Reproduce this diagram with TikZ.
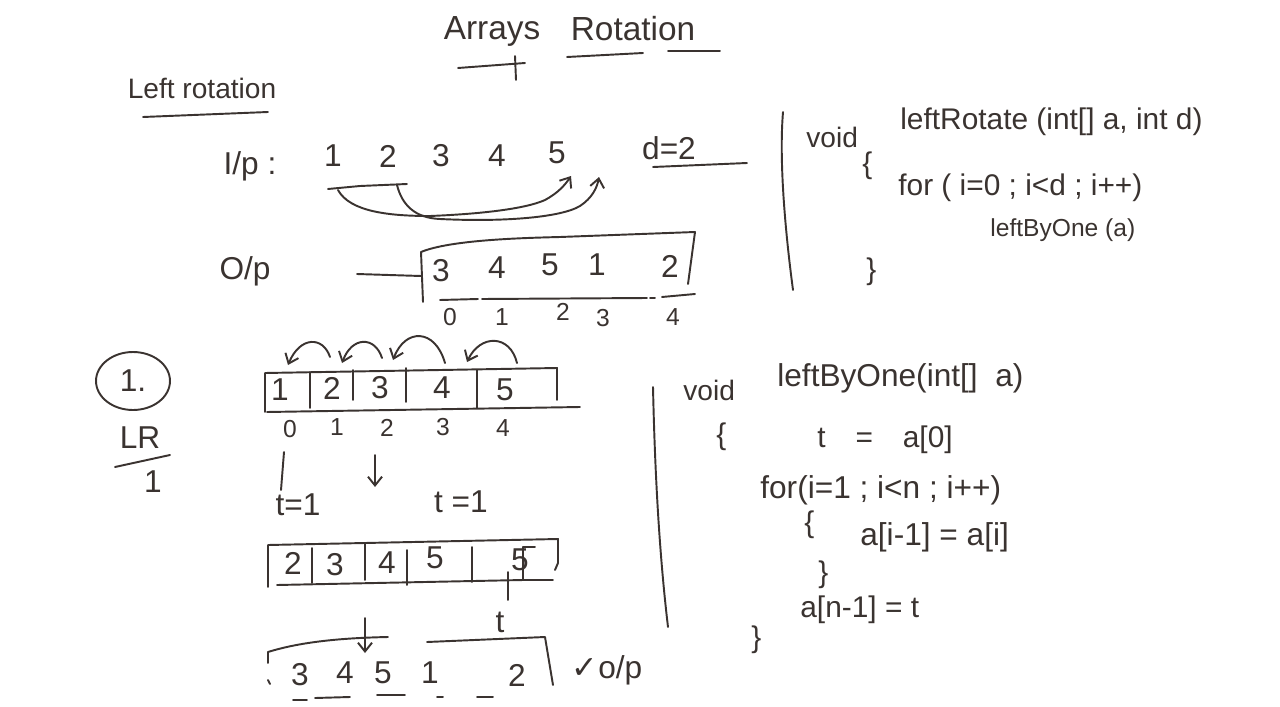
\documentclass[tikz,border=0pt]{standalone}
\usepackage{fontspec}
\setmainfont{Liberation Sans}
\newfontfamily\symfont{DejaVu Sans}
\usetikzlibrary{arrows.meta,shapes.geometric}
\definecolor{inkgray}{HTML}{3A3330}

\begin{document}
\begin{tikzpicture}[x=0.02cm,y=-0.02cm,
  pen/.style={draw=inkgray,line width=1.1pt,line cap=round,line join=round},
  tip/.style={-{Straight Barb[length=5pt,width=8pt]}},
  num/.style={text=inkgray,inner sep=0pt,font=\fontsize{18}{20}\selectfont},
  idx/.style={text=inkgray,inner sep=0pt,font=\fontsize{14}{16}\selectfont},
  code/.style={text=inkgray,inner sep=0pt,anchor=west,font=\fontsize{17}{20}\selectfont}]
  \useasboundingbox (0,0) rectangle (1280,706);

  \node[num,font=\fontsize{19}{22}\selectfont] (ttlA) at (492,31) {Arrays};
  \node[num,font=\fontsize{19}{22}\selectfont] (ttlR) at (633,29) {Rotation};
  \draw[pen] (458,68) -- (525,63);
  \draw[pen] (515,56) -- (516,80);
  \draw[pen] (567,57) -- (643,53);
  \draw[pen] (668,51) -- (720,51);
  \node[num,font=\fontsize{16}{18}\selectfont] (lrot) at (202,88) {Left rotation};
  \draw[pen] (143,117) -- (268,112);

  \node[num] (inp) at (250,166) {I/p :};
  \node[num] (i1) at (333,156) {1};
  \node[num] (i2) at (388,156) {2};
  \node[num] (i3) at (441,156) {3};
  \node[num] (i4) at (497,156) {4};
  \node[num] (i5) at (557,153) {5};
  \draw[pen] (328,189) -- (360,186) -- (407,184);
  \coordinate (b1) at (338,190);
  \coordinate (b2) at (397,185);
  \coordinate (p1) at (571,176);
  \coordinate (p2) at (599,177);
  \draw[pen,tip] (b1) .. controls (350,212) and (390,216) .. (430,216) .. controls (480,214) and (525,209) .. (545,200) .. controls (558,193) and (565,185) .. (p1);
  \draw[pen,tip] (b2) .. controls (402,205) and (415,218) .. (440,219) .. controls (500,222) and (560,218) .. (580,206) .. controls (592,198) and (597,188) .. (p2);
  \node[num] (dval) at (669,148) {d=2};
  \draw[pen] (653,167) -- (747,163);

  \node[num] (outp) at (245,271) {O/p};
  \draw[pen] (357,274) -- (421,276);
  \draw[pen] (423,302) -- (421,252) .. controls (450,240) and (520,238) .. (560,237) -- (695,232) -- (688,284);
  \node[num] (o1) at (441,271) {3};
  \node[num] (o2) at (497,268) {4};
  \node[num] (o3) at (550,265) {5};
  \node[num] (o4) at (597,265) {1};
  \node[num] (o5) at (670,266) {2};
  \draw[pen] (440,300) -- (478,299);
  \draw[pen] (482,299) -- (647,298);
  \draw[pen] (650,298) -- (655,298);
  \draw[pen] (662,297) -- (695,294);
  \node[idx] (x0) at (450,317) {0};
  \node[idx] (x1) at (502,317) {1};
  \node[idx] (x2) at (563,312) {2};
  \node[idx] (x3) at (603,318) {3};
  \node[idx] (x4) at (673,317) {4};

  \draw[pen] (783,112) .. controls (779,160) and (785,230) .. (793,290);
  \node[code,font=\fontsize{16}{18}\selectfont] (void1) at (806,137) {void};
  \node[code] (sig1) at (900,122) {leftRotate (int[] a, int d)};
  \node[code] (ob1) at (862,166) {\{};
  \node[code] (for1) at (898,188) {for ( i=0 ; i<d ; i++)};
  \node[code,font=\fontsize{14}{16}\selectfont] (call1) at (990,230) {leftByOne (a)};
  \node[code] (cb1) at (866,272) {\}};

  \node[num,draw=inkgray,line width=1.1pt,ellipse,minimum width=1.48cm,minimum height=1.16cm] (step1) at (133,381) {1.};
  \node[num] (lr) at (140,438) {LR};
  \draw[pen] (115,467) -- (170,455);
  \node[num] (lrn) at (153,482) {1};

  \draw[pen] (265,412) -- (265,373) -- (557,368) -- (557,400);
  \draw[pen] (267,412) -- (580,407);
  \draw[pen] (310,372) -- (310,408);
  \draw[pen] (353,370) -- (353,400);
  \draw[pen] (406,368) -- (406,402);
  \draw[pen] (477,370) -- (477,408);
  \node[num] (a1) at (280,390) {1};
  \node[num] (a2) at (332,388) {2};
  \node[num] (a3) at (380,388) {3};
  \node[num] (a4) at (442,388) {4};
  \node[num] (a5) at (505,390) {5};
  \node[idx] (j0) at (290,429) {0};
  \node[idx] (j1) at (337,427) {1};
  \node[idx] (j2) at (387,428) {2};
  \node[idx] (j3) at (443,427) {3};
  \node[idx] (j4) at (503,428) {4};
  \draw[pen,tip] (330,357) .. controls (323,336) and (300,336) .. (288,365);
  \draw[pen,tip] (382,358) .. controls (375,336) and (352,336) .. (342,363);
  \draw[pen,tip] (445,363) .. controls (435,328) and (405,328) .. (393,360);
  \draw[pen,tip] (517,363) .. controls (510,334) and (480,334) .. (467,362);

  \draw[pen] (284,452) -- (281,490);
  \node[num] (t1) at (298,505) {t=1};
  \coordinate (d1) at (375,455);
  \coordinate (d2) at (375,487);
  \draw[pen,tip] (d1) -- (d2);
  \node[num] (t2) at (461,502) {t =1};

  \draw[pen] (268,587) -- (268,545) -- (558,539) -- (558,563) -- (555,570);
  \draw[pen] (277,585) -- (523,580) -- (553,580);
  \draw[pen] (312,548) -- (312,583);
  \draw[pen] (365,543) -- (365,580);
  \draw[pen] (407,550) -- (407,585);
  \draw[pen] (472,547) -- (472,582);
  \draw[pen] (535,547) -- (523,547) -- (523,580);
  \node[num] (r1) at (293,563) {2};
  \node[num] (r2) at (335,565) {3};
  \node[num] (r3) at (387,563) {4};
  \node[num] (r4) at (435,558) {5};
  \node[num] (r5) at (520,560) {5};
  \draw[pen] (508,572) -- (508,600);
  \node[num] (tv) at (500,622) {t};

  \draw[pen] (268,652) -- (268,663);
  \draw[pen] (268,680) -- (270,684);
  \draw[pen] (268,652) .. controls (300,642) and (340,638) .. (388,637);
  \draw[pen] (427,642) -- (545,637) -- (553,685);
  \coordinate (d3) at (365,618);
  \coordinate (d4) at (365,653);
  \draw[pen,tip] (d3) -- (d4);
  \node[num] (f1) at (300,675) {3};
  \node[num] (f2) at (345,673) {4};
  \node[num] (f3) at (383,673) {5};
  \node[num] (f4) at (430,673) {1};
  \node[num] (f5) at (517,675) {2};
  \draw[pen] (293,700) -- (307,700);
  \draw[pen] (315,698) -- (350,697);
  \draw[pen] (377,695) -- (405,695);
  \draw[pen] (437,697) -- (443,697);
  \draw[pen] (477,697) -- (493,697);
  \node[num] (res) at (607,670) {{\symfont ✓}o/p};

  \draw[pen] (653,387) .. controls (655,480) and (660,560) .. (668,627);
  \node[code,font=\fontsize{16}{18}\selectfont] (void2) at (683,390) {void};
  \node[code,font=\fontsize{18}{20}\selectfont] (sig2) at (777,378) {leftByOne(int[]\ \ a)};
  \node[code] (ob2) at (716,437) {\{};
  \node[code] (tset) at (817,440) {t\quad=\quad a[0]};
  \node[code,font=\fontsize{18}{20}\selectfont] (for2) at (760,490) {for(i=1 ; i<n ; i++)};
  \node[code] (ob3) at (804,525) {\{};
  \node[code,font=\fontsize{18}{20}\selectfont] (mv) at (860,537) {a[i-1] = a[i]};
  \node[code] (cb3) at (818,575) {\}};
  \node[code] (last) at (800,610) {a[n-1] = t};
  \node[code] (cb2) at (751,640) {\}};
\end{tikzpicture}
\end{document}
